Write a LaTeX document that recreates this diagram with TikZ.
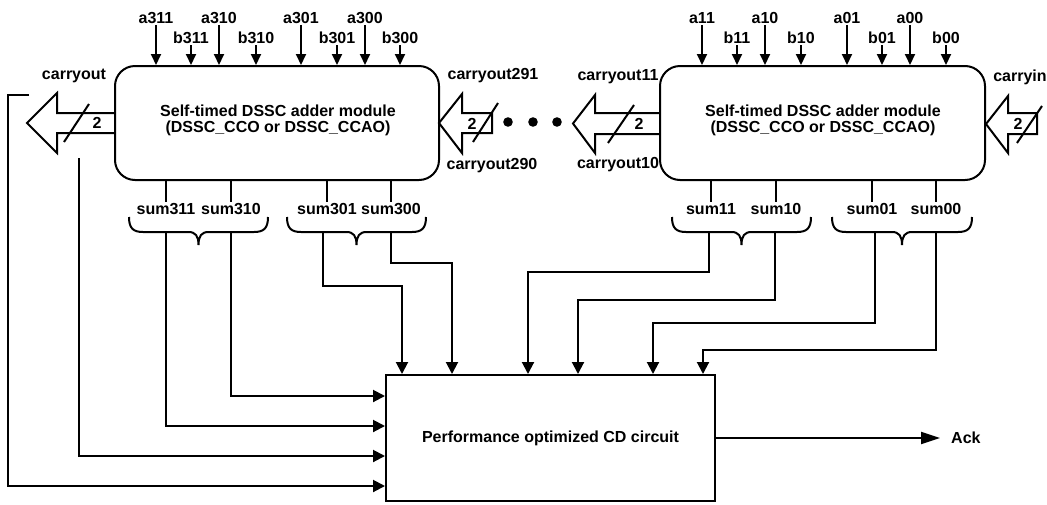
\documentclass[tikz,border=0pt]{standalone}
\usepackage{fontspec}
\setmainfont{Liberation Sans}
\usetikzlibrary{arrows.meta}
\newcommand\dbrace[2]{%
 \draw[wire] (#1,217) .. controls (#1,228) and ({#1+4},232) .. ({#1+14},232) -- ({(#1+#2)/2-10},232) .. controls ({(#1+#2)/2-3},232) and ({(#1+#2)/2},236) .. ({(#1+#2)/2},245) .. controls ({(#1+#2)/2},236) and ({(#1+#2)/2+3},232) .. ({(#1+#2)/2+10},232) -- ({#2-14},232) .. controls ({#2-4},232) and (#2,228) .. (#2,217);}
\begin{document}
\begin{tikzpicture}[x=1pt,y=-1pt,
  wire/.style={line width=2pt, line join=miter},
  arr/.style={wire, -{Triangle[length=12pt,width=12pt]}},
  inarr/.style={wire, -{Triangle[length=11pt,width=10pt]}},
  ackarr/.style={wire, -{Triangle[length=19pt,width=12pt]}},
  lbl/.style={font=\bfseries\fontsize{16}{16}\selectfont, inner sep=1pt},
  mtext/.style={font=\bfseries\fontsize{16}{15.5}\selectfont, align=center, inner sep=0pt},
  module/.style={draw, line width=2pt, rounded corners=20pt, minimum height=114pt, inner sep=0pt},
  hollow/.style={wire, line join=miter}]
\useasboundingbox (0,0) rectangle (1047,504);

% modules
\node[module, minimum width=324pt] (m1) at (277,123) {};
\node[module, minimum width=325pt] (m2) at (822.5,123) {};
\node[mtext] (m1t) at (278,120.5) {Self-timed DSSC adder module\\(DSSC\_CCO or DSSC\_CCAO)};
\node[mtext] (m2t) at (823,120.5) {Self-timed DSSC adder module\\(DSSC\_CCO or DSSC\_CCAO)};

% CD box
\node[draw, line width=2pt, minimum width=329pt, minimum height=126pt, inner sep=0pt, lbl] (cd) at (550.5,438) {Performance optimized CD circuit};

% top inputs
\foreach \n/\x in {a311/156,a310/219,a301/301,a300/365}{
  \node[lbl] (\n) at (\x,18) {\n};
  \draw[inarr] (\n.south) -- (\n.south |- m1.north);}
\foreach \n/\x in {b311/191,b310/256,b301/337,b300/400}{
  \node[lbl] (\n) at (\x,38) {\n};
  \draw[inarr] (\n.south) -- (\n.south |- m1.north);}
\foreach \n/\x in {a11/702,a10/765,a01/847,a00/910}{
  \node[lbl] (\n) at (\x,18) {\n};
  \draw[inarr] (\n.south) -- (\n.south |- m2.north);}
\foreach \n/\x in {b11/737,b10/801,b01/882,b00/946}{
  \node[lbl] (\n) at (\x,38) {\n};
  \draw[inarr] (\n.south) -- (\n.south |- m2.north);}

% sum outputs (top part)
\foreach \n/\x in {sum311/166,sum310/231,sum301/327,sum300/391}{
  \node[lbl] (\n) at (\x,209) {\n};
  \draw[wire] (m1.south -| \x,0) -- (\n.north);}
\foreach \n/\x in {sum11/711,sum10/776,sum01/872,sum00/936}{
  \node[lbl] (\n) at (\x,209) {\n};
  \draw[wire] (m2.south -| \x,0) -- (\n.north);}

% braces
\dbrace{129}{268}
\dbrace{287}{426}
\dbrace{672}{811}
\dbrace{832}{972}

% carry hollow arrows
\draw[hollow] (m1.west |- 0,113) -- (57,113) -- (57,93) -- (27,123) -- (57,153) -- (57,133) -- (m1.west |- 0,133);
\draw[wire] (64,142) -- (89,104);
\node[lbl] (n2a) at (97,123) {2};

\draw[hollow] (492,113) -- (462,113) -- (462,94) -- (439,123) -- (462,153) -- (462,133) -- (492,133) -- cycle;
\draw[wire] (473,142) -- (498,103);
\node[lbl] (n2b) at (472,124) {2};

\draw[hollow] (m2.west |- 0,113) -- (595,113) -- (595,95) -- (573,123.5) -- (595,153) -- (595,134) -- (m2.west |- 0,134);
\draw[wire] (608,143) -- (634,105);
\node[lbl] (n2c) at (639,124) {2};

\draw[hollow] (1037,113) -- (1008,113) -- (1008,96) -- (986,124) -- (1008,153) -- (1008,134) -- (1037,134) -- cycle;
\draw[wire] (1017,143) -- (1042,106);
\node[lbl] (n2d) at (1018,124) {2};

% dots
\foreach \x/\n in {508/d1,533/d2,557/d3}{
  \fill (\x,122) circle (4.8pt);}

% carry labels
\node[lbl] (lco) at (74,76) {carryout};
\node[lbl] (lco291) at (493,76) {carryout291};
\node[lbl] (lco290) at (492,166) {carryout290};
\node[lbl] (lco11) at (618,77) {carryout11};
\node[lbl] (lco10) at (618,165) {carryout10};
\node[lbl] (lci) at (1020,77) {carryin};

% connectors to CD
\coordinate (co1) at (29,95);
\coordinate (co2) at (79,158);
\draw[arr] (co1) -- (8,95) |- (cd.west |- 0,486);
\draw[arr] (co2) |- (cd.west |- 0,456);

\coordinate (s311) at (166,232);
\coordinate (s310) at (231,232);
\coordinate (s301) at (323,232);
\coordinate (s300) at (391,232);
\coordinate (s11) at (709,232);
\coordinate (s10) at (775,232);
\coordinate (s01) at (875,232);
\coordinate (s00) at (936,232);
\draw[arr] (s311) |- (cd.west |- 0,426);
\draw[arr] (s310) |- (cd.west |- 0,396);
\draw[arr] (s301) |- (402,286) -- (cd.north -| 402,0);
\draw[arr] (s300) |- (452,263) -- (cd.north -| 452,0);
\draw[arr] (s11) |- (528,272) -- (cd.north -| 528,0);
\draw[arr] (s10) |- (578,300) -- (cd.north -| 578,0);
\draw[arr] (s01) |- (653,323) -- (cd.north -| 653,0);
\draw[arr] (s00) |- (703,350) -- (cd.north -| 703,0);

% Ack
\node[lbl, anchor=west, inner sep=0pt] (ack) at (951,438) {Ack};
\draw[ackarr] (cd.east) -- ([xshift=-11pt]ack.west);
\end{tikzpicture}
\end{document}
